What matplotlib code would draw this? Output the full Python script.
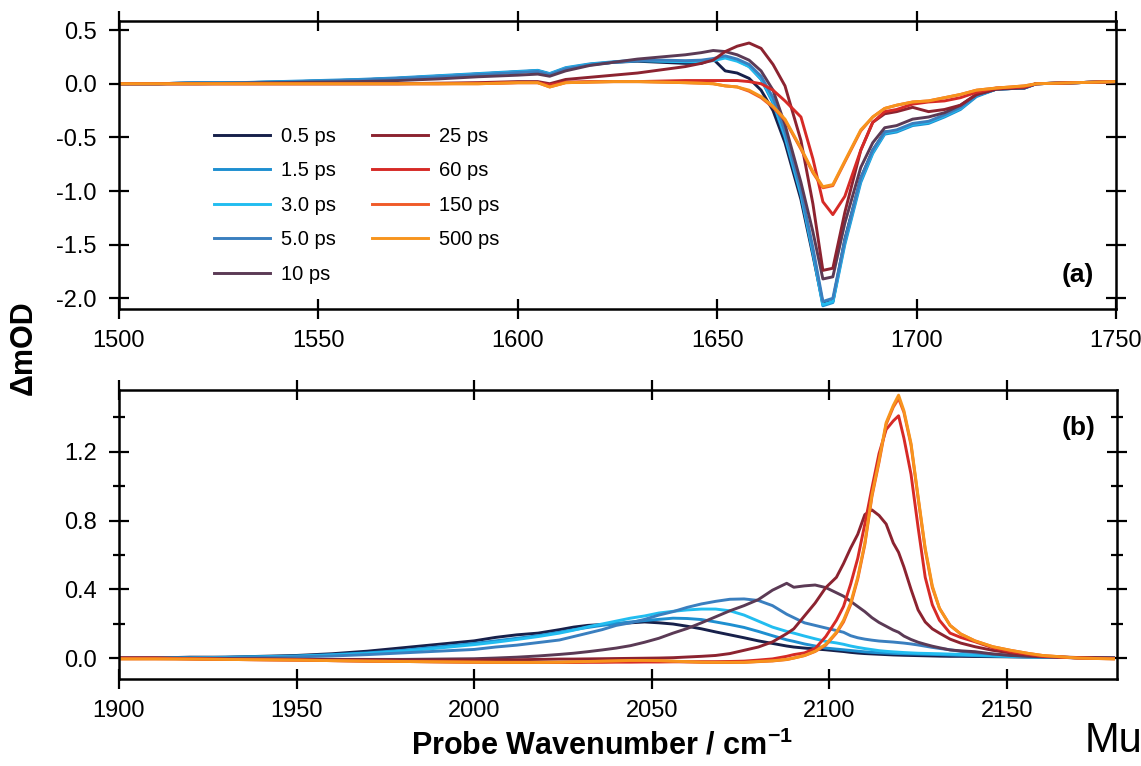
import matplotlib
matplotlib.use("Agg")
import matplotlib.pyplot as plt
from matplotlib.ticker import MultipleLocator, FormatStrFormatter

plt.rcParams['font.family'] = ['Liberation Sans', 'DejaVu Sans']
plt.rcParams['axes.unicode_minus'] = False
plt.rcParams['mathtext.fontset'] = 'custom'
plt.rcParams['mathtext.rm'] = 'Liberation Sans'
plt.rcParams['mathtext.bf'] = 'Liberation Sans:bold'

# ---- data: delay times and colours ----
labels = ['0.5 ps', '1.5 ps', '3.0 ps', '5.0 ps', '10 ps',
          '25 ps', '60 ps', '150 ps', '500 ps']
colors = ['#17204a', '#1e8fd0', '#22bdf0', '#3a7fbf', '#5b3a55',
          '#8c2330', '#d62a26', '#f05a28', '#f7941d']

# ---- panel (a): amide region ----
wn_a = [1500, 1510, 1520, 1530, 1540, 1550, 1560, 1570, 1580, 1590, 1600, 1605,
        1608, 1612, 1618, 1624, 1630, 1636, 1642, 1646, 1649, 1652, 1655, 1658,
        1661, 1664, 1667, 1671, 1674, 1676.5, 1679, 1682, 1686, 1689, 1692, 1695,
        1699, 1703, 1707, 1711, 1715, 1720, 1727, 1730, 1740, 1750]

a_05 = [0.00, 0.00, 0.01, 0.01, 0.015, 0.025, 0.035, 0.05, 0.07, 0.09, 0.11, 0.12,
        0.09, 0.14, 0.18, 0.20, 0.21, 0.20, 0.19, 0.19, 0.23, 0.12, 0.10, 0.05,
        -0.06, -0.25, -0.55, -1.08, -1.60, -2.05, -2.03, -1.45, -0.88, -0.62, -0.45, -0.44,
        -0.38, -0.36, -0.30, -0.23, -0.11, -0.05, -0.04, 0.00, 0.01, 0.02]
a_15 = [0.00, 0.00, 0.01, 0.01, 0.02, 0.03, 0.04, 0.055, 0.075, 0.095, 0.115, 0.125,
        0.095, 0.15, 0.185, 0.205, 0.22, 0.215, 0.21, 0.21, 0.22, 0.25, 0.22, 0.16,
        0.04, -0.18, -0.50, -1.04, -1.58, -2.07, -2.04, -1.50, -0.92, -0.65, -0.47, -0.45,
        -0.39, -0.37, -0.31, -0.24, -0.12, -0.05, -0.04, 0.00, 0.01, 0.02]
a_30 = [0.00, 0.00, 0.005, 0.01, 0.015, 0.025, 0.035, 0.05, 0.07, 0.09, 0.11, 0.12,
        0.09, 0.145, 0.18, 0.20, 0.215, 0.21, 0.205, 0.205, 0.215, 0.24, 0.21, 0.16,
        0.05, -0.16, -0.48, -1.02, -1.56, -2.06, -2.03, -1.48, -0.90, -0.64, -0.46, -0.44,
        -0.38, -0.36, -0.30, -0.23, -0.11, -0.05, -0.04, 0.00, 0.01, 0.02]
a_50 = [0.00, 0.00, 0.01, 0.01, 0.015, 0.025, 0.035, 0.05, 0.065, 0.085, 0.105, 0.115,
        0.085, 0.14, 0.175, 0.20, 0.215, 0.22, 0.215, 0.22, 0.235, 0.26, 0.23, 0.18,
        0.07, -0.13, -0.45, -0.99, -1.53, -2.03, -2.00, -1.46, -0.88, -0.62, -0.45, -0.43,
        -0.37, -0.35, -0.29, -0.22, -0.11, -0.05, -0.04, 0.00, 0.01, 0.02]
a_10 = [0.00, 0.00, 0.00, 0.005, 0.01, 0.015, 0.02, 0.03, 0.045, 0.065, 0.08, 0.09,
        0.07, 0.12, 0.17, 0.20, 0.23, 0.25, 0.27, 0.29, 0.31, 0.30, 0.27, 0.22,
        0.12, -0.06, -0.38, -0.92, -1.38, -1.82, -1.80, -1.30, -0.78, -0.55, -0.41, -0.39,
        -0.33, -0.31, -0.27, -0.20, -0.10, -0.05, -0.04, 0.00, 0.01, 0.02]
a_25 = [0.00, 0.00, 0.00, 0.00, 0.00, 0.00, 0.00, 0.00, 0.005, 0.01, 0.02, 0.02,
        0.00, 0.04, 0.06, 0.08, 0.10, 0.13, 0.16, 0.19, 0.22, 0.30, 0.35, 0.38,
        0.33, 0.18, -0.02, -0.53, -1.12, -1.74, -1.72, -1.20, -0.62, -0.36, -0.28, -0.26,
        -0.22, -0.26, -0.24, -0.20, -0.10, -0.05, -0.03, 0.00, 0.01, 0.02]
a_60 = [0.00, 0.00, 0.00, 0.00, 0.00, 0.00, 0.00, 0.00, 0.00, 0.005, 0.01, 0.01,
        -0.01, 0.015, 0.02, 0.02, 0.02, 0.025, 0.03, 0.03, 0.03, 0.03, 0.03, 0.02,
        0.00, -0.06, -0.16, -0.31, -0.70, -1.10, -1.22, -1.05, -0.62, -0.36, -0.26, -0.24,
        -0.19, -0.17, -0.16, -0.13, -0.08, -0.04, -0.03, 0.00, 0.01, 0.02]
a_150 = [0.00, 0.00, 0.00, 0.00, 0.00, 0.00, 0.00, 0.00, 0.00, 0.00, 0.01, 0.01,
         -0.03, 0.01, 0.015, 0.02, 0.02, 0.015, 0.01, 0.005, 0.00, -0.02, -0.03, -0.07,
         -0.13, -0.22, -0.34, -0.61, -0.83, -0.97, -0.95, -0.73, -0.44, -0.31, -0.23, -0.20,
         -0.17, -0.16, -0.13, -0.10, -0.06, -0.04, -0.02, 0.00, 0.01, 0.02]
a_500 = [0.00, 0.00, 0.00, 0.00, 0.00, 0.00, 0.00, 0.00, 0.00, 0.00, 0.01, 0.01,
         -0.03, 0.01, 0.015, 0.02, 0.02, 0.015, 0.01, 0.005, 0.00, -0.02, -0.03, -0.06,
         -0.12, -0.21, -0.33, -0.60, -0.82, -0.96, -0.94, -0.72, -0.43, -0.31, -0.23, -0.20,
         -0.17, -0.16, -0.13, -0.10, -0.06, -0.04, -0.02, 0.00, 0.01, 0.02]

# ---- panel (b): cyanide stretch region ----
wn_b = [1900, 1910, 1920, 1930, 1940, 1950, 1960, 1970, 1980, 1990, 2000, 2006,
        2012, 2018, 2024, 2028, 2032, 2036, 2040, 2044, 2048, 2052, 2056, 2060,
        2064, 2068, 2072, 2076, 2080, 2084, 2088, 2090, 2093, 2096, 2099, 2102,
        2104, 2106, 2108, 2110, 2112, 2114, 2116, 2118, 2119.5, 2121, 2123, 2125,
        2127, 2129, 2131, 2134, 2137, 2141, 2146, 2151, 2156, 2160, 2170, 2180]

b_05 = [0.0, 0.0, 0.005, 0.005, 0.01, 0.015, 0.025, 0.04, 0.06, 0.08, 0.10, 0.12,
        0.135, 0.145, 0.165, 0.18, 0.19, 0.195, 0.20, 0.205, 0.21, 0.205, 0.198, 0.185,
        0.17, 0.152, 0.135, 0.118, 0.10, 0.085, 0.07, 0.064, 0.058, 0.053, 0.048, 0.042,
        0.038, 0.033, 0.029, 0.026, 0.024, 0.022, 0.02, 0.018, 0.017, 0.016, 0.015, 0.014,
        0.013, 0.012, 0.011, 0.01, 0.01, 0.009, 0.008, 0.007, 0.006, 0.005, 0.002, 0.0]
b_15 = [0.0, 0.0, 0.0, 0.005, 0.008, 0.012, 0.02, 0.03, 0.045, 0.065, 0.085, 0.10,
        0.115, 0.13, 0.15, 0.165, 0.178, 0.19, 0.20, 0.21, 0.218, 0.225, 0.232, 0.23,
        0.224, 0.21, 0.195, 0.178, 0.155, 0.13, 0.106, 0.097, 0.082, 0.07, 0.058, 0.052,
        0.048, 0.044, 0.04, 0.036, 0.033, 0.031, 0.029, 0.027, 0.026, 0.025, 0.024, 0.023,
        0.022, 0.021, 0.02, 0.018, 0.016, 0.014, 0.011, 0.008, 0.006, 0.005, 0.002, 0.0]
b_30 = [0.0, 0.0, 0.0, 0.003, 0.006, 0.01, 0.017, 0.027, 0.04, 0.058, 0.078, 0.092,
        0.108, 0.125, 0.145, 0.162, 0.182, 0.198, 0.215, 0.232, 0.245, 0.262, 0.272, 0.28,
        0.285, 0.285, 0.275, 0.25, 0.215, 0.18, 0.155, 0.145, 0.128, 0.112, 0.097, 0.088,
        0.08, 0.07, 0.062, 0.055, 0.049, 0.043, 0.039, 0.036, 0.034, 0.032, 0.03, 0.028,
        0.027, 0.026, 0.025, 0.023, 0.021, 0.018, 0.014, 0.01, 0.007, 0.005, 0.002, 0.0]
b_50 = [0.0, 0.0, 0.0, 0.0, 0.003, 0.007, 0.012, 0.02, 0.03, 0.04, 0.05, 0.064,
        0.075, 0.09, 0.105, 0.125, 0.145, 0.165, 0.19, 0.205, 0.225, 0.25, 0.27, 0.295,
        0.315, 0.33, 0.342, 0.344, 0.335, 0.305, 0.255, 0.235, 0.205, 0.19, 0.175, 0.16,
        0.15, 0.13, 0.118, 0.11, 0.104, 0.099, 0.096, 0.093, 0.09, 0.087, 0.082, 0.076,
        0.069, 0.062, 0.056, 0.048, 0.039, 0.031, 0.022, 0.016, 0.01, 0.007, 0.002, 0.0]
b_10 = [0.0, 0.0, -0.003, -0.005, -0.005, -0.007, -0.008, -0.008, -0.008, -0.006, -0.004, 0.0,
        0.005, 0.012, 0.021, 0.028, 0.037, 0.047, 0.058, 0.072, 0.092, 0.115, 0.145, 0.172,
        0.205, 0.24, 0.275, 0.305, 0.34, 0.395, 0.435, 0.412, 0.42, 0.425, 0.41, 0.38,
        0.36, 0.33, 0.30, 0.27, 0.235, 0.207, 0.185, 0.163, 0.15, 0.128, 0.108, 0.092,
        0.08, 0.069, 0.06, 0.047, 0.042, 0.037, 0.024, 0.015, 0.01, 0.007, 0.002, 0.0]
b_25 = [0.0, 0.0, -0.003, -0.005, -0.006, -0.008, -0.01, -0.01, -0.012, -0.012, -0.012, -0.01,
        -0.01, -0.008, -0.006, -0.006, -0.005, -0.004, -0.003, -0.002, -0.001, 0.0, 0.002, 0.006,
        0.01, 0.015, 0.026, 0.045, 0.064, 0.094, 0.142, 0.17, 0.245, 0.32, 0.41, 0.47,
        0.55, 0.64, 0.72, 0.835, 0.862, 0.83, 0.78, 0.67, 0.615, 0.53, 0.40, 0.28,
        0.21, 0.17, 0.145, 0.11, 0.087, 0.066, 0.045, 0.03, 0.017, 0.01, 0.003, 0.0]
b_60 = [0.0, 0.0, -0.005, -0.008, -0.01, -0.012, -0.015, -0.018, -0.02, -0.022, -0.024, -0.025,
        -0.025, -0.026, -0.026, -0.026, -0.025, -0.025, -0.024, -0.024, -0.023, -0.023, -0.022, -0.022,
        -0.021, -0.021, -0.02, -0.018, -0.012, -0.005, 0.01, 0.02, 0.03, 0.055, 0.125, 0.22,
        0.30, 0.43, 0.58, 0.78, 0.99, 1.19, 1.33, 1.38, 1.41, 1.28, 1.07, 0.76,
        0.47, 0.31, 0.22, 0.145, 0.12, 0.095, 0.06, 0.037, 0.022, 0.01, 0.0, -0.003]
b_150 = [-0.005, -0.005, -0.006, -0.008, -0.01, -0.012, -0.015, -0.018, -0.02, -0.022, -0.024, -0.025,
         -0.026, -0.026, -0.025, -0.023, -0.021, -0.019, -0.017, -0.015, -0.015, -0.016, -0.019, -0.022,
         -0.025, -0.026, -0.026, -0.025, -0.021, -0.017, -0.009, 0.0, 0.014, 0.038, 0.075, 0.145,
         0.21, 0.31, 0.46, 0.66, 0.94, 1.14, 1.36, 1.46, 1.51, 1.43, 1.24, 0.93,
         0.63, 0.41, 0.29, 0.19, 0.14, 0.10, 0.066, 0.045, 0.027, 0.015, 0.0, -0.005]
b_500 = [-0.005, -0.005, -0.006, -0.008, -0.01, -0.012, -0.015, -0.018, -0.02, -0.022, -0.024, -0.025,
         -0.025, -0.025, -0.024, -0.022, -0.02, -0.018, -0.016, -0.014, -0.014, -0.015, -0.018, -0.021,
         -0.024, -0.025, -0.025, -0.025, -0.02, -0.016, -0.008, 0.0, 0.015, 0.04, 0.08, 0.15,
         0.22, 0.32, 0.47, 0.67, 0.95, 1.15, 1.37, 1.47, 1.53, 1.44, 1.25, 0.94,
         0.64, 0.42, 0.29, 0.19, 0.14, 0.10, 0.066, 0.045, 0.027, 0.015, 0.0, -0.005]

series_a = [a_05, a_15, a_30, a_50, a_10, a_25, a_60, a_150, a_500]
series_b = [b_05, b_15, b_30, b_50, b_10, b_25, b_60, b_150, b_500]

W, H = 1141, 766
fig = plt.figure(figsize=(W / 100, H / 100), dpi=100)
ax1 = fig.add_axes([119 / W, 1 - 309 / H, 997 / W, 288 / H])
ax2 = fig.add_axes([119 / W, 1 - 679 / H, 998 / W, 289 / H])

for ys, c, lab in zip(series_a, colors, labels):
    ax1.plot(wn_a, ys, color=c, lw=2.1, label=lab)
for ys, c in zip(series_b, colors):
    ax2.plot(wn_b, ys, color=c, lw=2.1)


def style(ax):
    for sp in ax.spines.values():
        sp.set_linewidth(1.8)
    ax.tick_params(which='major', direction='inout', length=14, width=1.6,
                   top=True, right=True, labelsize=17, colors='black')
    ax.tick_params(axis='x', pad=8)
    ax.tick_params(axis='y', pad=9)


ax1.set_xlim(1500, 1750)
ax1.set_ylim(-2.10, 0.585)
ax1.xaxis.set_major_locator(MultipleLocator(50))
ax1.yaxis.set_major_locator(MultipleLocator(0.5))
ax1.yaxis.set_major_formatter(FormatStrFormatter('%.1f'))
style(ax1)

ax2.set_xlim(1900, 2181)
ax2.set_ylim(-0.122, 1.56)
ax2.xaxis.set_major_locator(MultipleLocator(50))
ax2.yaxis.set_major_locator(MultipleLocator(0.4))
ax2.yaxis.set_minor_locator(MultipleLocator(0.2))
ax2.yaxis.set_major_formatter(FormatStrFormatter('%.1f'))
style(ax2)
ax2.tick_params(axis='y', which='minor', direction='inout', length=9, width=1.6,
                left=True, right=True)

ax1.legend(loc='upper left', bbox_to_anchor=(0.085, 0.667), ncol=2,
           frameon=False, fontsize=14.5, handlelength=2.8, handletextpad=0.55,
           columnspacing=1.75, labelspacing=0.77, borderpad=0)

ax1.text(0.978, 0.118, '(a)', transform=ax1.transAxes, ha='right', va='center',
         fontsize=19, fontweight='bold')
ax2.text(0.978, 0.868, '(b)', transform=ax2.transAxes, ha='right', va='center',
         fontsize=19, fontweight='bold')

fig.text(0.021, 0.546, 'ΔmOD', rotation=90, ha='center', va='center',
         fontsize=22, fontweight='bold')
fig.text(0.528, 0.026, r'Probe Wavenumber / cm$^{\mathbf{-1}}$', ha='center',
         va='center', fontsize=22, fontweight='bold')
fig.text(0.951, 0.018, 'Mu', ha='left', va='baseline', fontsize=30)

fig.savefig('out.png', dpi=100)
